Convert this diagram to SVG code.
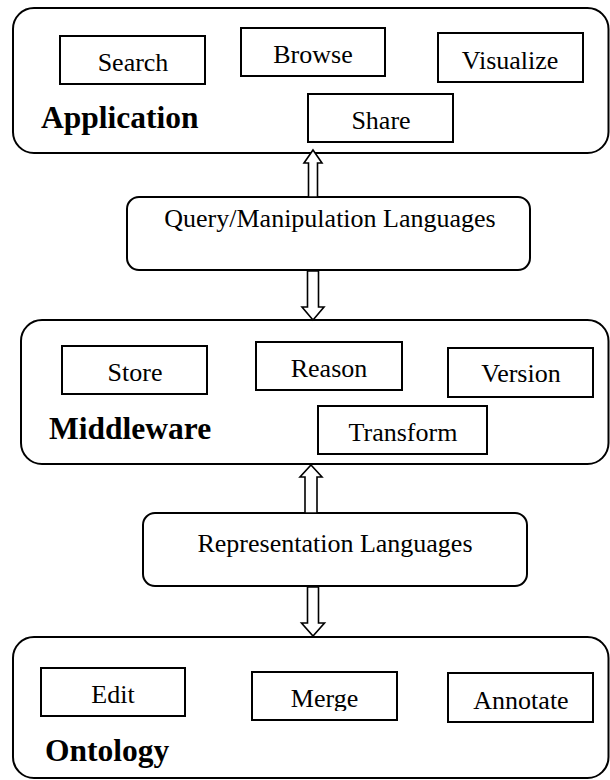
<svg xmlns="http://www.w3.org/2000/svg" width="610" height="780" viewBox="0 0 610 780">
<style>
.layer{fill:#fff;stroke:#000;stroke-width:2}
.lang{fill:#fff;stroke:#000;stroke-width:2}
.box{fill:#fff;stroke:#000;stroke-width:2}
.t{font-family:'Liberation Serif','DejaVu Serif',serif;font-size:26px;fill:#000;text-anchor:middle}
.h{font-family:'Liberation Serif','DejaVu Serif',serif;font-size:31.5px;font-weight:bold;fill:#000}
.arrow{fill:#fff;stroke:#000;stroke-width:1.6;stroke-linejoin:miter}
</style>
<defs>
<clipPath id="mergeClip"><rect x="252" y="672" width="145" height="39"/></clipPath>
</defs>
<g id="application">
<rect class="layer" x="13" y="8" width="595.5" height="145" rx="21"/>
<text class="h" x="41" y="128">Application</text>
</g>
<g id="search"><rect class="box" x="60" y="36" width="145" height="48"/><text class="t" x="133" y="71">Search</text></g>
<g id="browse"><rect class="box" x="241" y="28" width="144" height="48"/><text class="t" x="313" y="63">Browse</text></g>
<g id="visualize"><rect class="box" x="438" y="33" width="145" height="49"/><text class="t" x="510" y="69">Visualize</text></g>
<g id="share"><rect class="box" x="308" y="94" width="145" height="48"/><text class="t" x="381" y="129">Share</text></g>
<g id="query">
<rect class="lang" x="127" y="197" width="403" height="73" rx="12"/>
<text class="t" x="330" y="227">Query/Manipulation Languages</text>
</g>
<g id="middleware">
<rect class="layer" x="21" y="320" width="587.5" height="144" rx="21"/>
<text class="h" x="49" y="439">Middleware</text>
</g>
<g id="store"><rect class="box" x="62" y="346" width="145" height="48"/><text class="t" x="135" y="381">Store</text></g>
<g id="reason"><rect class="box" x="256" y="342" width="146" height="48"/><text class="t" x="329" y="377">Reason</text></g>
<g id="version"><rect class="box" x="448" y="348" width="145" height="49"/><text class="t" x="521" y="382">Version</text></g>
<g id="transform"><rect class="box" x="318" y="406" width="169" height="48"/><text class="t" x="403" y="441">Transform</text></g>
<g id="representation">
<rect class="lang" x="143" y="513" width="384" height="73" rx="12"/>
<text class="t" x="335" y="552">Representation Languages</text>
</g>
<g id="ontology">
<rect class="layer" x="13" y="637" width="595.5" height="141" rx="21"/>
<text class="h" x="45" y="761">Ontology</text>
</g>
<g id="edit"><rect class="box" x="41" y="668" width="144" height="48"/><text class="t" x="113" y="703">Edit</text></g>
<g id="merge"><rect class="box" x="252" y="672" width="145" height="48"/><text class="t" x="324.5" y="707" clip-path="url(#mergeClip)">Merge</text></g>
<g id="annotate"><rect class="box" x="448" y="673" width="145" height="49"/><text class="t" x="521" y="709">Annotate</text></g>
<g id="connectors">
<polygon class="arrow" points="313,150 322,163 317.5,163 317.5,197 308.5,197 308.5,163 304,163"/>
<polygon class="arrow" points="307.5,271 318.5,271 318.5,307 324,307 313,320 302,307 307.5,307"/>
<polygon class="arrow" points="311,465 322,477 317,477 317,513 305,513 305,477 300,477"/>
<polygon class="arrow" points="307.5,587 318.5,587 318.5,623 324.5,623 313,636 301.5,623 307.5,623"/>
</g>
</svg>
